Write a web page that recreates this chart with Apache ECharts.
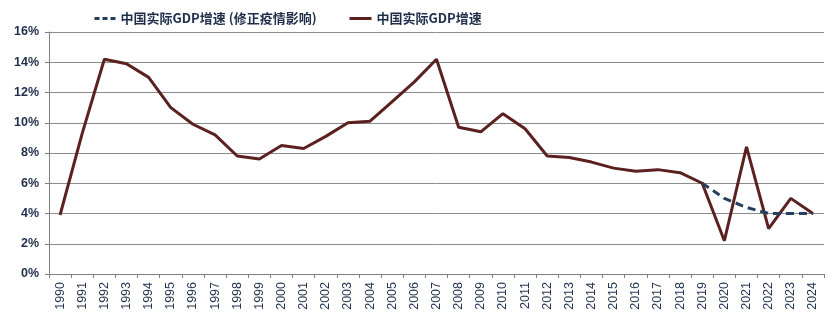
<!DOCTYPE html>
<html><head><meta charset="utf-8">
<script src="https://cdn.jsdelivr.net/npm/echarts@6/dist/echarts.min.js"></script>
<style>html,body{margin:0;padding:0;background:#fff}#c{width:836px;height:317px}</style>
</head><body><div id="c"></div>
<script>
const years = ['1990','1991','1992','1993','1994','1995','1996','1997','1998','1999','2000','2001','2002','2003','2004','2005','2006','2007','2008','2009','2010','2011','2012','2013','2014','2015','2016','2017','2018','2019','2020','2021','2022','2023','2024'];
const gdpActual = [3.9,9.3,14.2,13.9,13.0,11.0,9.9,9.2,7.8,7.6,8.5,8.3,9.1,10.0,10.1,11.4,12.7,14.2,9.7,9.4,10.6,9.6,7.8,7.7,7.4,7.0,6.8,6.9,6.7,6.0,2.2,8.4,3.0,5.0,4.0];
const gdpAdjusted = [null,null,null,null,null,null,null,null,null,null,null,null,null,null,null,null,null,null,null,null,null,null,null,null,null,null,null,null,null,6.0,5.0,4.4,4.0,4.0,4.0];
const nameAdj = '中国实际GDP增速 (修正疫情影响)';
const nameAct = '中国实际GDP增速';
const chart = echarts.init(document.getElementById('c'));
const legendText = {color:'#1f2d4a', fontSize:13, fontWeight:'bold', fontFamily:'Noto Sans CJK SC'};
chart.setOption({
  animation:false,
  legend:[
    {data:[nameAdj], left:88, top:7, itemWidth:21, itemHeight:4, itemGap:4, textStyle:legendText,
      lineStyle:{width:3, type:[5,3]}},
    {data:[nameAct], left:343, top:7, itemWidth:22, itemHeight:4, textStyle:legendText, lineStyle:{width:3}}
  ],
  grid:{left:49, right:12, top:32, bottom:43},
  xAxis:{type:'category', data:years, boundaryGap:true,
    axisLine:{lineStyle:{color:'#808080'}},
    axisTick:{show:true, alignWithLabel:false, length:4, lineStyle:{color:'#808080'}},
    axisLabel:{rotate:90, interval:0, color:'#1f3050', fontSize:12.5, fontFamily:'Liberation Sans', margin:8}},
  yAxis:{type:'value', min:0, max:16, interval:2,
    axisLine:{show:true, lineStyle:{color:'#808080'}},
    axisTick:{show:true, length:4, lineStyle:{color:'#808080'}},
    splitLine:{lineStyle:{color:'#8c8c8c', width:1}},
    axisLabel:{formatter:'{value}%', color:'#1f2d4a', fontSize:12.5, fontWeight:'bold', fontFamily:'Liberation Sans', margin:10}},
  series:[
    {name:nameAdj, type:'line', data:gdpAdjusted, symbol:'none', smooth:false, z:3,
      lineStyle:{color:'#243f60', width:3, type:[8,5]}, itemStyle:{color:'#243f60'}},
    {name:nameAct, type:'line', data:gdpActual, symbol:'none', z:2,
      lineStyle:{color:'#5b2020', width:3}, itemStyle:{color:'#5b2020'}}
  ]
});
</script></body></html>
